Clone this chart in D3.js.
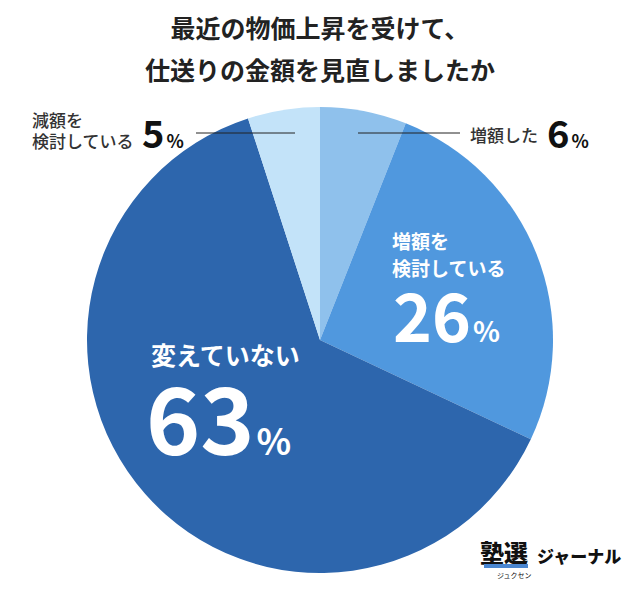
<!DOCTYPE html><html><head><meta charset="utf-8">
<script src="https://cdn.jsdelivr.net/npm/d3@7"></script>
<style>body{margin:0;background:#fff}text{font-family:"Noto Sans CJK JP",sans-serif}</style></head><body>
<svg id="c" width="640" height="595"></svg>
<script>
const categories=["増額した","増額を検討している","変えていない","減額を検討している"];
const values=[6,26,63,5];
const colors=["#8fc1ec","#5098de","#2d66ad","#c3e3f9"];
const svg=d3.select("#c");
const t=svg.append("text").attr("text-anchor","middle").attr("font-size",25).attr("font-weight",700).attr("fill","#222");
t.append("tspan").attr("x",320).attr("y",38).text("最近の物価上昇を受けて、");
t.append("tspan").attr("x",320).attr("y",80).text("仕送りの金額を見直しましたか");
const cx=320,cy=340,r=233;
const pie=d3.pie().sort(null)(values);
const arc=d3.arc().innerRadius(0).outerRadius(r);
const g=svg.append("g").attr("transform",`translate(${cx},${cy})`);
g.selectAll("path").data(pie).join("path").attr("d",arc).attr("fill",(d,i)=>colors[i]);
svg.append("line").attr("x1",196).attr("x2",295).attr("y1",133).attr("y2",133).attr("stroke","#222").attr("stroke-width",1);
svg.append("line").attr("x1",358).attr("x2",460).attr("y1",133).attr("y2",133).attr("stroke","#222").attr("stroke-width",1);
function pct(x,y,v,big,small,fill){
  const tt=svg.append("text").attr("x",x).attr("y",y).attr("fill",fill).attr("font-family","Roboto,sans-serif").attr("font-weight",700);
  tt.append("tspan").attr("font-size",big).text(v);
  tt.append("tspan").attr("font-size",small).attr("dx",2).text("%");
}
function lab(x,y,s,size,fill,weight){svg.append("text").attr("x",x).attr("y",y).attr("font-size",size).attr("fill",fill).attr("font-weight",weight||500).text(s);}
lab(32,127,"減額を",17,"#333");
lab(32,148,"検討している",17,"#333");
pct(142,148,values[3],38,18,"#111");
lab(470,142,categories[0],17,"#333");
pct(547,148,values[0],38,18,"#111");
lab(392,249,"増額を",19,"#fff",700);
lab(392,276,"検討している",19,"#fff",700);
pct(393,342,values[1],66,28,"#fff");
lab(151,365,categories[2],25,"#fff",700);
pct(146,455,values[2],92,36,"#fff");
svg.append("text").attr("x",480).attr("y",562).attr("font-size",24).attr("font-weight",900).attr("fill","#111").text("塾選");
svg.append("rect").attr("x",484).attr("y",564).attr("width",44).attr("height",4).attr("fill","#4a86d0");
svg.append("text").attr("x",497).attr("y",578).attr("font-size",7).attr("fill","#111").text("ジュクセン");
svg.append("text").attr("x",537).attr("y",563).attr("font-size",17).attr("font-weight",900).attr("fill","#111").text("ジャーナル");
</script></body></html>
